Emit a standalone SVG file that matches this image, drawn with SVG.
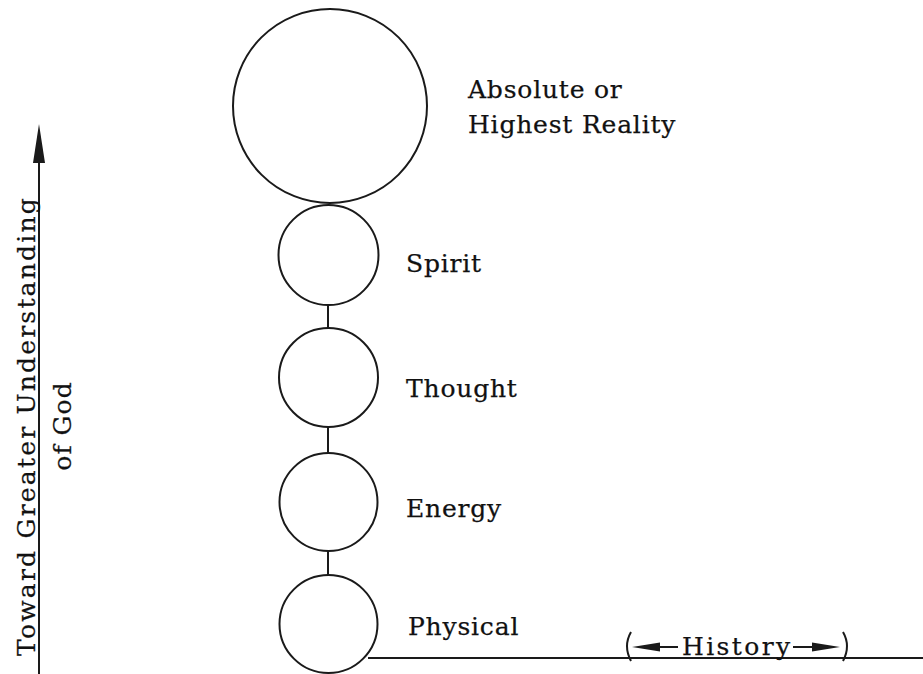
<svg xmlns="http://www.w3.org/2000/svg" width="923" height="674" viewBox="0 0 923 674">
<style>
text{font-family:"DejaVu Serif","Liberation Serif",serif;font-size:25px;fill:#111;stroke:#111;stroke-width:0.25;letter-spacing:0.8px}
.v{letter-spacing:2.2px}
.g{letter-spacing:1px}
.hs{letter-spacing:2.4px}
.c{fill:none;stroke:#1a1a1a;stroke-width:2}
.l{stroke:#1a1a1a;stroke-width:2;fill:none}
.h{fill:#1a1a1a}
</style>
<rect width="923" height="674" fill="#fff"/>
<g id="axis">
<line class="l" x1="39" y1="150" x2="39" y2="674"/>
<path class="h" d="M39,124 L45,163 L33,163 Z"/>
<text class="v" transform="translate(35,426) rotate(-90)" text-anchor="middle">Toward Greater Understanding</text>
<text class="g" transform="translate(71,426) rotate(-90)" text-anchor="middle">of God</text>
</g>
<g id="connectors">
<line class="l" x1="328" y1="305" x2="328" y2="328"/>
<line class="l" x1="328" y1="427" x2="328" y2="453"/>
<line class="l" x1="328" y1="551" x2="328" y2="575"/>
<line class="l" x1="368" y1="658" x2="923" y2="658"/>
</g>
<g id="absolute">
<circle class="c" cx="330" cy="106" r="97" stroke-width="2.6"/>
<text x="468" y="98">Absolute or</text>
<text x="468" y="133">Highest Reality</text>
</g>
<g id="spirit">
<circle class="c" cx="328.5" cy="255" r="50"/>
<text x="406" y="272">Spirit</text>
</g>
<g id="thought">
<circle class="c" cx="328.5" cy="377.5" r="49.5"/>
<text x="406" y="397">Thought</text>
</g>
<g id="energy">
<circle class="c" cx="328.5" cy="502" r="49"/>
<text x="406" y="517">Energy</text>
</g>
<g id="physical">
<circle class="c" cx="328.5" cy="624" r="49"/>
<text x="408" y="635">Physical</text>
</g>
<g id="history">
<path class="l" d="M631,632 Q623,646 631,661"/>
<path class="l" d="M843,632 Q851,646 843,661"/>
<line class="l" x1="645" y1="647" x2="678" y2="647"/>
<path class="h" d="M632,647 L660,642.5 L660,651.5 Z"/>
<line class="l" x1="793" y1="647" x2="820" y2="647"/>
<path class="h" d="M840,647 L812,642.5 L812,651.5 Z"/>
<text class="hs" x="682" y="655">History</text>
</g>
</svg>
